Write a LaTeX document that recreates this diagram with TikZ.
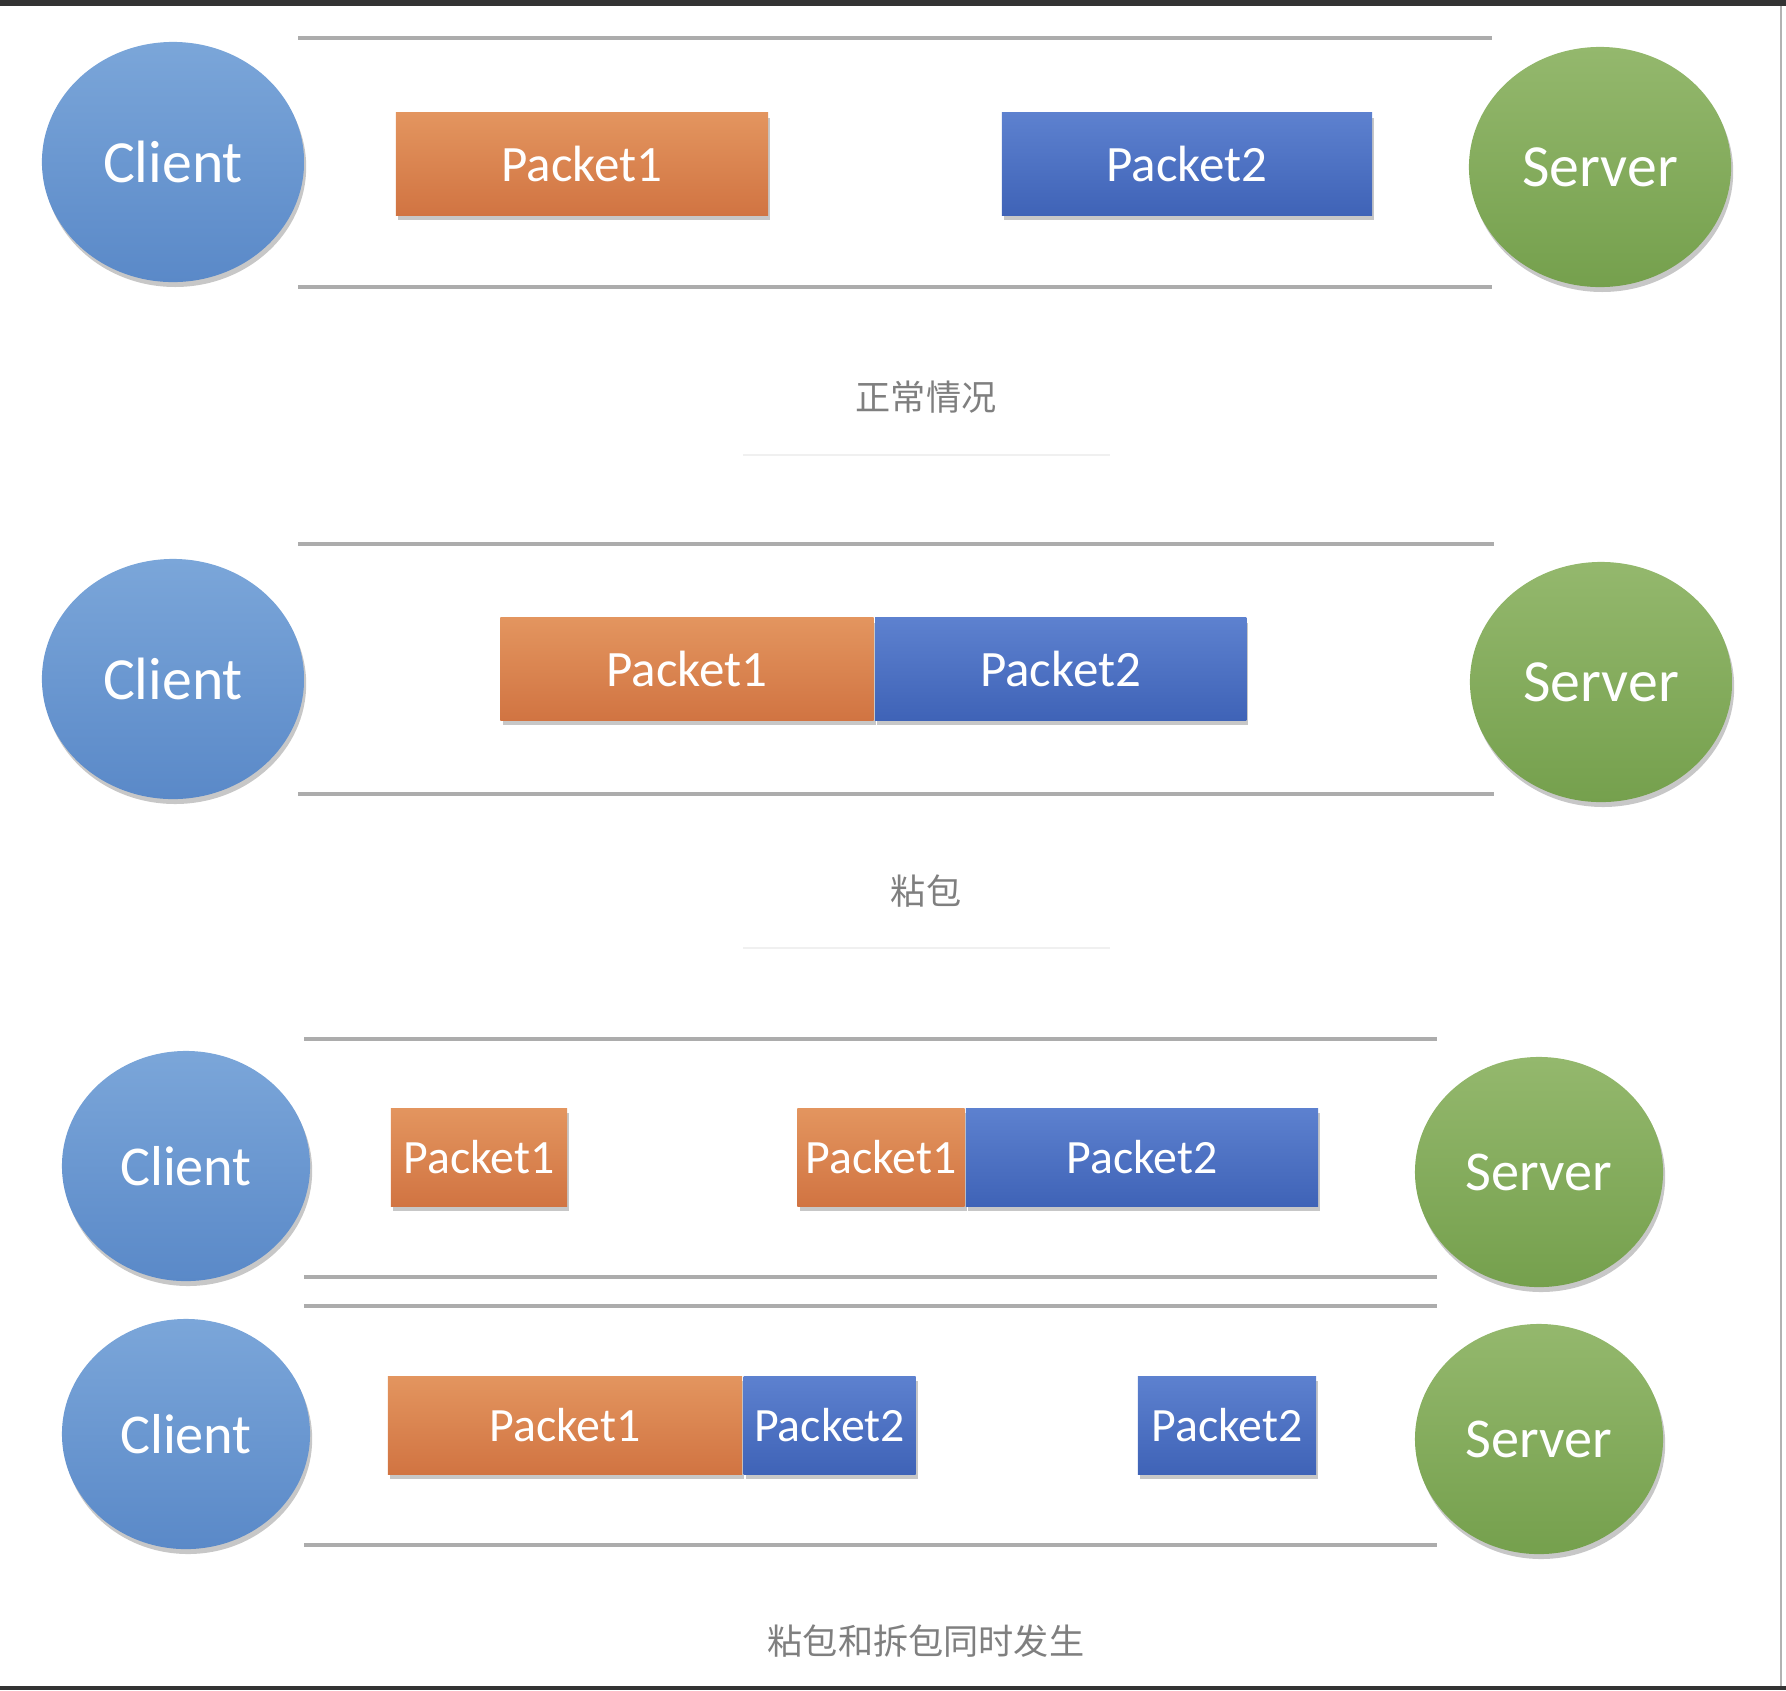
\documentclass[tikz,border=0pt]{standalone}
\usepackage{fontspec}
\setmainfont{Carlito}
\newfontfamily\cjk{Noto Sans CJK SC}
\usetikzlibrary{shapes.geometric,shadows,positioning}
\definecolor{clienttop}{HTML}{7BA6D9}
\definecolor{clientbot}{HTML}{5A89C8}
\definecolor{servertop}{HTML}{94B86D}
\definecolor{serverbot}{HTML}{75A04D}
\definecolor{orangetop}{HTML}{E3955F}
\definecolor{orangebot}{HTML}{D17442}
\definecolor{bluetop}{HTML}{5D81CF}
\definecolor{bluebot}{HTML}{3F63B7}
\definecolor{captiongray}{HTML}{7F7F7F}
\definecolor{framedark}{HTML}{333333}

\begin{document}
\begin{tikzpicture}[
      x=0.01cm, y=-0.01cm,
      shade/.style={drop shadow={shadow xshift=0.6pt, shadow yshift=-1.4pt, fill=black, opacity=0.22}},
      client/.style={
          ellipse, shade, inner sep=0pt,
          top color=clienttop, bottom color=clientbot, text=white,
          minimum width=2.62cm, minimum height=2.40cm,
          font=\fontsize{17}{20}\selectfont
      },
      server/.style={
          client, top color=servertop, bottom color=serverbot
      },
      small/.style={
          minimum width=2.48cm, minimum height=2.30cm,
          font=\fontsize{16}{19}\selectfont
      },
      pkt/.style={
          rectangle, shade, inner sep=0pt, text=white,
          minimum height=1.02cm, font=\fontsize{14.5}{17}\selectfont
      },
      orange/.style={pkt, top color=orangetop, bottom color=orangebot},
      blue/.style={pkt, top color=bluetop, bottom color=bluebot},
      narrow/.style={minimum height=0.98cm, font=\fontsize{13.6}{16}\selectfont},
      wall/.style={draw=gray!65, line width=1pt},
      caption/.style={text=captiongray, font=\cjk\fontsize{10}{12}\selectfont},
      rule/.style={draw=gray!12, line width=0.5pt}
  ]
      \useasboundingbox (0,0) rectangle (1786,1690);
      % Cadre de la capture
      \fill[framedark] (0,0) rectangle (1786,6);
      \fill[framedark] (0,1686) rectangle (1786,1690);
      \draw[gray!60, line width=0.8pt] (1781,6) -- (1781,1686);

      % Cas normal
      \draw[wall] (298,38) -- (1492,38);
      \draw[wall] (298,287) -- (1492,287);
      \node[client] (cli1) at (173,162) {Client};
      \node[server] (srv1) at (1600,167) {Server};
      \node[orange, minimum width=3.72cm] (p1a) at (582,164) {Packet1};
      \node[blue, minimum width=3.70cm] (p2a) at (1187,164) {Packet2};
      \node[caption] (cap1) at (926,397) {正常情况};
      \draw[rule] (743,455) -- (1110,455);

      % Paquets colles
      \draw[wall] (298,544) -- (1494,544);
      \draw[wall] (298,794) -- (1494,794);
      \node[client] (cli2) at (173,679) {Client};
      \node[server] (srv2) at (1601,682) {Server};
      \node[orange, minimum width=3.73cm] (p1b) at (687,669) {Packet1};
      \node[blue, minimum width=3.71cm, right=0pt of p1b] (p2b) {Packet2};
      \node[caption] (cap2) at (926,891) {粘包};
      \draw[rule] (743,948) -- (1110,948);

      % Colles et coupes
      \draw[wall] (304,1039) -- (1437,1039);
      \draw[wall] (304,1277) -- (1437,1277);
      \node[client, small] (cli3) at (186,1166) {Client};
      \node[server, small] (srv3) at (1539,1172) {Server};
      \node[orange, narrow, minimum width=1.76cm] (p1c) at (479,1157) {Packet1};
      \node[orange, narrow, minimum width=1.67cm] (p1d) at (881,1157) {Packet1};
      \node[blue, narrow, minimum width=3.52cm, right=0pt of p1d] (p2c) {Packet2};

      \draw[wall] (304,1306) -- (1437,1306);
      \draw[wall] (304,1545) -- (1437,1545);
      \node[client, small] (cli4) at (186,1434) {Client};
      \node[server, small] (srv4) at (1539,1439) {Server};
      \node[orange, narrow, minimum width=3.54cm] (p1e) at (565,1425) {Packet1};
      \node[blue, narrow, minimum width=1.72cm, right=0pt of p1e] (p2d) {Packet2};
      \node[blue, narrow, minimum width=1.78cm] (p2e) at (1227,1425) {Packet2};
      \node[caption] (cap3) at (926,1641) {粘包和拆包同时发生};
  \end{tikzpicture}
\end{document}
